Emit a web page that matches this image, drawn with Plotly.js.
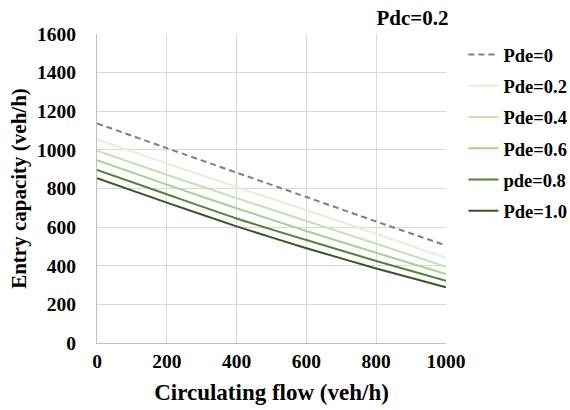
<!DOCTYPE html>
<html>
<head>
<meta charset="utf-8">
<script src="https://cdn.plot.ly/plotly-3.0.1.min.js"></script>
<style>html,body{margin:0;padding:0;background:#fff;}#chart{width:570px;height:410px;}</style>
</head>
<body>
<div id="chart"></div>
<script>
// Data
const circulatingFlow = [0, 200, 400, 600, 800, 1000];
const seriesNames = ["Pde=0", "Pde=0.2", "Pde=0.4", "Pde=0.6", "pde=0.8", "Pde=1.0"];
const pde0   = [1137, 1009, 882, 756, 629, 505];
const pde02  = [1054, 930, 807, 687, 565, 441];
const pde04  = [996, 871, 750, 632, 514, 395];
const pde06  = [947, 820, 698, 580, 467, 357];
const pde08  = [896, 770, 645, 533, 425, 322];
const pde10  = [853, 727, 604, 491, 386, 288];
const xTicks = [0, 200, 400, 600, 800, 1000];
const yTicks = [0, 200, 400, 600, 800, 1000, 1200, 1400, 1600];

const colors = ["#7f7f7f", "#e2efda", "#c6e0b4", "#a9d18e", "#548235", "#375623"];
const dashes = ["6px,4px", "solid", "solid", "solid", "solid", "solid"];
const allSeries = [pde0, pde02, pde04, pde06, pde08, pde10];

const FONT = "Liberation Serif, Times New Roman, serif";

const traces = allSeries.map((ys, i) => ({
  x: circulatingFlow,
  y: ys,
  type: "scatter",
  mode: "lines",
  name: seriesNames[i],
  legendgroup: "g" + i,
  line: {color: colors[i], width: 2, dash: dashes[i], shape: "spline", smoothing: 0.6}
}));

const layout = {
  width: 570,
  height: 410,
  paper_bgcolor: "#ffffff",
  plot_bgcolor: "#ffffff",
  margin: {l: 97, r: 124, t: 34, b: 67, pad: 0},
  font: {family: FONT, color: "#000000", size: 19, weight: "bold"},
  title: {
    text: "Pdc=0.2",
    font: {family: FONT, size: 21, color: "#000000", weight: "bold"},
    xref: "container", x: 0.787, xanchor: "right",
    yref: "container", y: 0.957, yanchor: "middle"
  },
  xaxis: {
    range: [0, 1000],
    tickvals: xTicks,
    ticktext: xTicks.map(String),
    showgrid: true,
    gridcolor: "#d9d9d9",
    gridwidth: 1,
    zeroline: false,
    showline: true,
    linecolor: "#bfbfbf",
    linewidth: 1,
    ticks: "",
    ticklabelstandoff: 1,
    tickfont: {family: FONT, size: 19.5, color: "#000000", weight: "bold"},
    title: {text: "Circulating flow (veh/h)", font: {family: FONT, size: 23, color: "#000000", weight: "bold"}, standoff: 12}
  },
  yaxis: {
    range: [0, 1600],
    tickvals: yTicks,
    ticktext: yTicks.map(String),
    showgrid: true,
    gridcolor: "#d9d9d9",
    gridwidth: 1,
    zeroline: false,
    showline: true,
    linecolor: "#bfbfbf",
    linewidth: 1,
    ticks: "",
    ticklabelstandoff: 16,
    tickfont: {family: FONT, size: 19.5, color: "#000000", weight: "bold"},
    title: {text: "Entry capacity (veh/h)", font: {family: FONT, size: 21, color: "#000000", weight: "bold"}, standoff: 4}
  },
  showlegend: true,
  legend: {
    xref: "container", x: 0.813, xanchor: "left",
    yref: "container", y: 0.912, yanchor: "top",
    traceorder: "grouped",
    tracegroupgap: 4.2,
    itemwidth: 30,
    font: {family: FONT, size: 18.5, color: "#000000", weight: "bold"},
    bgcolor: "rgba(0,0,0,0)",
    borderwidth: 0
  }
};

Plotly.newPlot("chart", traces, layout, {staticPlot: true, displayModeBar: false});
</script>
</body>
</html>
